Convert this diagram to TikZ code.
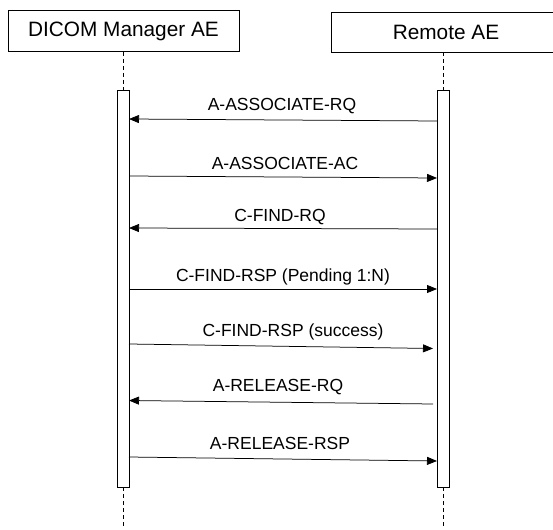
\documentclass[tikz,border=0pt]{standalone}
\usepackage{fontspec}
\setmainfont{Liberation Sans}
\usetikzlibrary{arrows.meta}
\begin{document}
\begin{tikzpicture}[x=1pt,y=-1pt,
  actor/.style={draw=black,line width=0.8pt,fill=white,minimum height=41pt,inner sep=0pt,font=\fontsize{20.8}{23}\selectfont},
  bar/.style={draw=black,line width=0.8pt,fill=white,minimum width=12pt,minimum height=397pt,inner sep=0pt},
  life/.style={draw=black,line width=0.7pt,dash pattern=on 4pt off 3pt},
  msg/.style={draw=black,line width=0.75pt,-{Triangle[length=10pt,width=8pt]}},
  lbl/.style={inner sep=0pt,font=\fontsize{17.5}{20}\selectfont}]
\clip (0,0) rectangle (553,529);
\fill[white] (0,0) rectangle (553,529);
% actors
\node[actor,minimum width=231pt] (mgr) at (123.5,31) {DICOM Manager AE};
\node[actor,minimum width=230pt,minimum height=40pt] (rem) at (446,32) {Remote AE};
% activation bars
\node[bar] (lbar) at (123,288.5) {};
\node[bar] (rbar) at (443,288.5) {};
% lifelines
\coordinate (lend) at (123,529);
\coordinate (rend) at (443,529);
\draw[life] (mgr.south -| lbar.north) -- (lbar.north);
\draw[life] (lbar.south) -- (lend);
\draw[life] (rem.south -| rbar.north) -- (rbar.north);
\draw[life] (rbar.south) -- (rend);
% message end points
\coordinate (r1) at (437,121); \coordinate (l1) at (129,119);
\coordinate (l2) at (129,176); \coordinate (r2) at (437,178);
\coordinate (r3) at (437,229); \coordinate (l3) at (129,228);
\coordinate (l4) at (129,289); \coordinate (r4) at (437,289);
\coordinate (l5) at (129,344); \coordinate (r5) at (433,348.5);
\coordinate (r6) at (433,404); \coordinate (l6) at (129,400.5);
\coordinate (l7) at (129,457); \coordinate (r7) at (437,461);
% messages
\draw[msg] (r1) -- (l1);
\draw[msg] (l2) -- (r2);
\draw[msg] (r3) -- (l3);
\draw[msg] (l4) -- (r4);
\draw[msg] (l5) -- (r5);
\draw[msg] (r6) -- (l6);
\draw[msg] (l7) -- (r7);
% labels
\node[lbl] (t1) at (282,106) {A-ASSOCIATE-RQ};
\node[lbl] (t2) at (285,163) {A-ASSOCIATE-AC};
\node[lbl] (t3) at (280,217) {C-FIND-RQ};
\node[lbl] (t4) at (283,277) {C-FIND-RSP (Pending 1:N)};
\node[lbl] (t5) at (293,332) {C-FIND-RSP (success)};
\node[lbl] (t6) at (278,387) {A-RELEASE-RQ};
\node[lbl] (t7) at (280,443) {A-RELEASE-RSP};
\end{tikzpicture}
\end{document}
